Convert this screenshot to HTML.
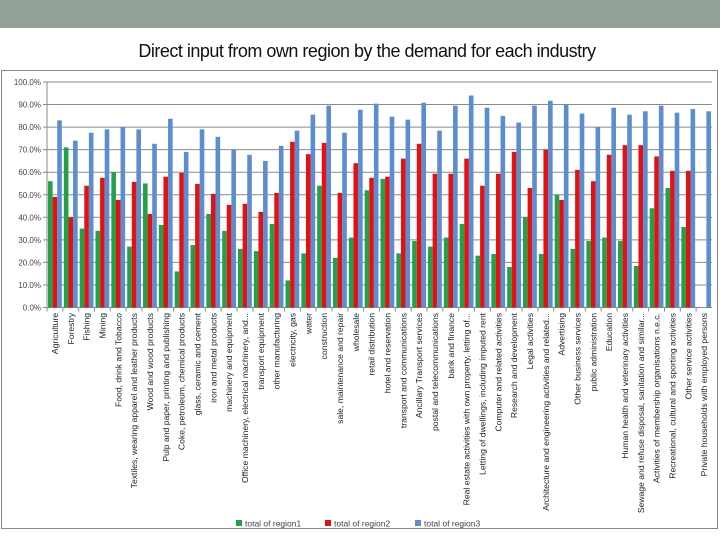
<!DOCTYPE html>
<html><head><meta charset="utf-8"><style>
html,body{margin:0;padding:0;background:#fff;}
body{width:720px;height:540px;overflow:hidden;position:relative;font-family:"Liberation Sans",sans-serif;}
#band{position:absolute;left:0;top:0;width:720px;height:28px;background:#92a298;}
#title{position:absolute;left:0;top:41px;width:734px;text-align:center;font-size:18px;color:#111;letter-spacing:-0.5px;}
svg{position:absolute;left:0;top:0;}
</style></head><body>
<div id="band"></div>
<div id="title">Direct input from own region by the demand for each industry</div>
<svg id="chart" width="720" height="540"></svg>
<script>
const categories=["Agriculture","Forestry","Fishing","Mining","Food, drink and Tobacco","Textiles, wearing apparel and leather products","Wood and wood products","Pulp and paper, printing and publishing","Coke, petroleum, chemical products","glass, ceramic and cement","iron and metal products","machinery and equipment","Office machinery, electrical machinery, and...","transport equipment","other manufacturing","electricity, gas","water","construction","sale, maintenance and repair","wholesale","retail distribution","hotel and reservation","transport and communications","Ancillary Transport services","postal and telecommunications","bank and finance","Real estate activities with own property, letting of...","Letting of dwellings, including imputed rent","Computer and related activities","Research and development","Legal activities","Architecture and engineering activities and related...","Advertising","Other business services","public administration","Education","Human health and veterinary activities","Sewage and refuse disposal, sanitation and similar...","Activities of membership organisations n.e.c.","Recreational, cultural and sporting activities","Other service activities","Private households with employed persons"];
const region1=[56,71,35,34,60,27,55,36.6,16,27.7,41.5,34,26,25,37,12,24,54,22,31,52,57,24,29.5,27,31,37,23,23.7,18,40,23.7,50,26,29.5,31,29.5,18.4,44,53,35.7,0];
const region2=[49,40,54,57.5,47.7,55.7,41.5,58,59.7,54.8,50.4,45.5,46,42.4,50.8,73.5,68,73,50.8,64,57.5,58,66,72.6,59.3,59.3,66,54,59.3,69,53,70,47.7,61,56,67.7,72,72,67,60.6,60.6,0];
const region3=[83,74,77.5,79,80,79,72.6,83.7,69,79,75.7,70,67.7,65,71.7,78.4,85.5,89.5,77.5,87.7,90.4,84.6,83.3,90.8,78.4,89.5,94,88.6,85,82,89.5,91.7,90,86,80,88.6,85.5,87,89.5,86.4,88,87];
const yTicks=[0,10,20,30,40,50,60,70,80,90,100];
const seriesNames=["total of region1","total of region2","total of region3"];
const colors=["#23a048","#e31212","#5b8dd0"];
const NS="http://www.w3.org/2000/svg";
const svg=document.getElementById('chart');
const X0=47,X1=712,Y0=307.5,Y1=82;
const y=v=>Y0-(v/100)*(Y0-Y1);
const gw=(X1-X0)/categories.length;
const x=i=>X0+i*gw;
function mk(t,a){const e=document.createElementNS(NS,t);for(const k in a)e.setAttribute(k,a[k]);svg.appendChild(e);return e;}
let fr=mk('rect',{x:1.5,y:70.5,width:716,height:458,fill:'none',stroke:'#888','stroke-width':1});


yTicks.forEach(t=>{
  const l=mk('line',{x1:X0-4,x2:X1,y1:y(t),y2:y(t),stroke:t===0?'#888':'#8a8a8a','stroke-width':1});
  
  
  const tx=mk('text',{x:41,y:y(t)+3,'text-anchor':'end','font-size':'8','fill':'#444'});
  tx.textContent=t.toFixed(1)+'%';
  
  
});
let ax=mk('line',{x1:X0,x2:X0,y1:Y1,y2:Y0+3,stroke:'#888'});


const bw=4.6;
[region1,region2,region3].forEach((s,si)=>{
  s.forEach((v,i)=>{
    const bx=x(i)+gw/2-1.5*bw+si*bw;
    const r=mk('rect',{x:bx,y:y(v),width:bw,height:Y0-y(v),fill:colors[si]});
    
    
  });
});
categories.forEach((c,i)=>{
  const tk=mk('line',{x1:x(i),x2:x(i),y1:Y0,y2:Y0+4,stroke:'#888'});
  
  
  const cx=x(i)+gw/2+3;
  const t=mk('text',{x:0,y:0,transform:`translate(${cx},313) rotate(-90)`,'text-anchor':'end','font-size':'8.6','fill':'#222'});
  t.textContent=c;
  
  
});
const lx=[236,325,415];
seriesNames.forEach((n,i)=>{
  const r=mk('rect',{x:lx[i],y:520,width:6,height:6,fill:colors[i]});
  
  
  const t=mk('text',{x:lx[i]+9,y:526.5,'font-size':'8.5','fill':'#444'});
  t.textContent=n;
  
  
});
</script>
</body></html>
